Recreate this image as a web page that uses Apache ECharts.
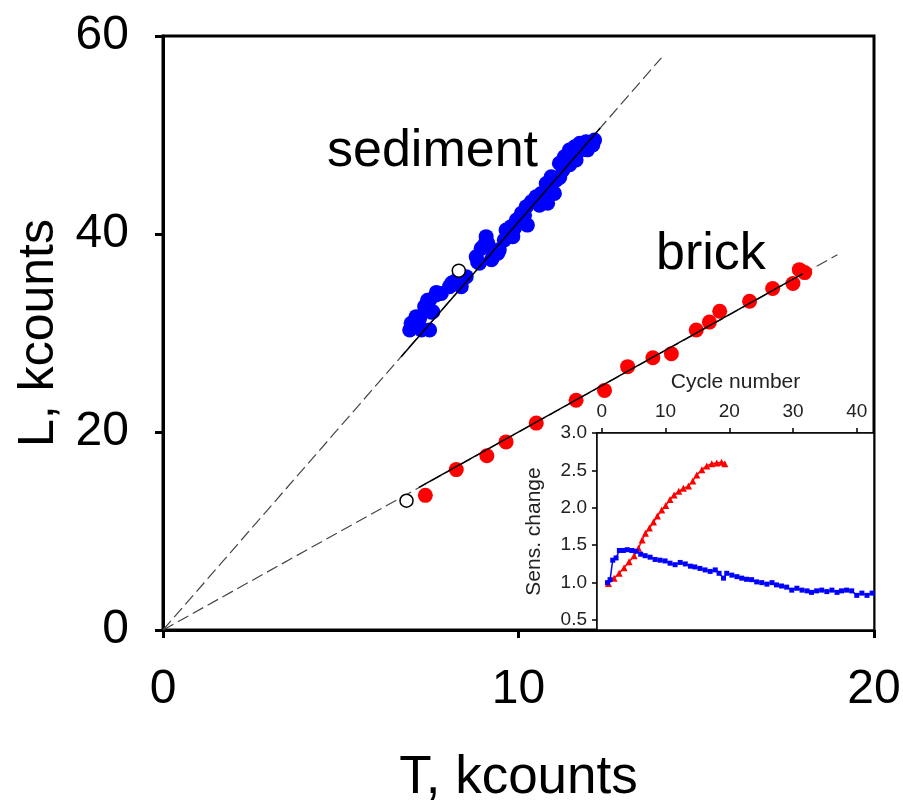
<!DOCTYPE html>
<html>
<head>
<meta charset="utf-8">
<script src="https://cdn.jsdelivr.net/npm/echarts@6/dist/echarts.min.js"></script>
<style>html,body{margin:0;padding:0;background:#fff}#c{width:903px;height:800px}</style>
</head>
<body>
<div id="c"></div>
<script>
// ---- main plot data ----
const sedT = [6.98,7.12,7.22,7.36,7.50,7.59,7.68,7.83,7.50,8.06,8.20,8.39,8.53,8.81,8.95,9.09,9.14,9.28,9.42,8.90,9.65,9.79,9.94,10.08,9.84,10.22,10.36,10.12,10.50,10.64,10.78,10.92,10.82,11.01,11.15,11.29,11.43,11.58,11.72,11.90,12.09,11.62,11.25,11.06,
  6.94,7.22,7.44,7.69,7.27,7.55,8.12,8.34,8.85,9.04,9.24,9.46,9.60,9.89,10.17,10.25,10.59,10.93,11.16,11.44,11.77,12.14,11.94];
const sedL = [30.98,31.65,30.64,32.66,33.33,32.15,33.84,34.00,30.30,34.68,35.20,34.68,35.69,37.70,38.55,39.73,39.06,37.70,38.05,37.04,40.40,40.74,41.41,42.09,39.73,42.76,43.26,41.41,43.77,44.10,45.10,45.79,43.10,44.10,47.14,47.80,48.48,48.82,49.16,49.33,48.99,47.47,46.46,45.45,
  30.3,31.5,33.3,34.1,30.3,32.1,35.05,35.56,37.17,38.9,37.4,38.4,39.4,40.6,41.9,40.9,42.9,44.4,45.7,47.0,48.5,49.5,48.5];
const brickT = [7.38,8.25,9.11,9.65,10.50,11.62,12.42,13.07,13.78,14.30,15.00,15.37,15.66,16.50,17.15,17.72,17.90,18.05];
const brickL = [13.6,16.2,17.6,19.0,20.9,23.2,24.2,26.6,27.5,27.9,30.3,31.1,32.2,33.2,34.5,35.0,36.4,36.1];
const openT = [8.32, 6.85];
const openL = [36.3, 13.06];
const sedFitDash = [[0,0],[14.02,57.8]];
const sedFitSolid = [[6.7,27.6],[12.3,50.7]];
const brickFitDash = [[0,0],[18.97,37.9]];
const brickFitSolid = [[7.2,14.4],[18.0,36.0]];
const mainXTicks = [0,10,20];
const mainYTicks = [0,20,40,60];

// ---- inset data ----
const redCycle = [1.04,1.93,2.72,3.5,4.28,5.07,5.75,6.33,6.85,7.47,8.1,8.72,9.4,10.03,10.7,11.34,12.07,12.8,13.6,14.27,14.9,15.7,16.47,17.25,18.03,18.8,19.3];
const redSens = [0.99,1.06,1.125,1.2,1.28,1.36,1.46,1.57,1.66,1.73,1.81,1.89,1.97,2.03,2.11,2.17,2.22,2.26,2.29,2.36,2.44,2.51,2.56,2.59,2.6,2.61,2.59];
const blueCycle = [0.9,1.3,1.72,2.24,2.76,3.39,4.0,4.7,5.38,6.1,6.8,7.58,8.36,9.14,9.93,10.7,11.5,12.3,13.1,13.9,14.6,15.4,16.2,17.0,17.8,18.4,19.1,19.6,20.4,21.2,21.95,22.7,23.5,24.3,25.1,25.9,26.7,27.4,28.2,29.0,29.8,30.6,31.4,32.2,32.9,33.7,34.5,35.3,36.1,36.9,37.6,38.4,39.2,40.0,40.8,41.6,42.4];
const blueSens = [1.0,1.04,1.30,1.33,1.43,1.43,1.44,1.43,1.42,1.38,1.36,1.34,1.31,1.30,1.29,1.26,1.24,1.27,1.25,1.22,1.21,1.19,1.17,1.15,1.17,1.125,1.06,1.125,1.10,1.08,1.06,1.045,1.04,1.01,1.0,0.98,1.0,0.97,0.955,0.94,0.90,0.925,0.90,0.89,0.87,0.89,0.90,0.88,0.90,0.87,0.89,0.90,0.89,0.83,0.86,0.83,0.86];
const insetXTicks = [0,10,20,30,40];
const insetYTicks = [0.5,1.0,1.5,2.0,2.5,3.0];

const zip = (a,b) => a.map((v,i)=>[v,b[i]]);
const FONT = 'Liberation Sans, Arial, sans-serif';

const chart = echarts.init(document.getElementById('c'), null, {renderer:'canvas'});
chart.setOption({
  animation:false,
  backgroundColor:'#fff',
  grid:[
    {left:163, top:36, right:29, bottom:170, outerBoundsMode:'none', containLabel:false, show:true, borderColor:'#000', borderWidth:3, backgroundColor:'transparent', z:0},
    {left:597, top:433, right:29, bottom:170, outerBoundsMode:'none', containLabel:false, show:true, borderColor:'#000', borderWidth:1.5, backgroundColor:'#fff', z:5}
  ],
  xAxis:[
    {gridIndex:0, type:'value', min:0, max:20, interval:10,
     name:'T, kcounts', nameLocation:'middle', nameGap:122,
     nameTextStyle:{fontFamily:FONT, fontSize:53, color:'#000'},
     axisLine:{lineStyle:{color:'#000', width:3}},
     axisTick:{inside:false, length:8, lineStyle:{width:3, color:'#000'}, customValues:mainXTicks},
     axisLabel:{fontFamily:FONT, fontSize:48, color:'#000', margin:36, customValues:mainXTicks},
     splitLine:{show:false}},
    {gridIndex:1, type:'value', position:'top', min:-0.75, max:42.7,
     name:'Cycle number', nameLocation:'middle', nameGap:40,
     nameTextStyle:{fontFamily:FONT, fontSize:21, color:'#222'},
     axisLine:{onZero:false, lineStyle:{color:'#000', width:1.5}},
     axisTick:{length:5, lineStyle:{width:1.5,color:'#000'}, customValues:insetXTicks},
     axisLabel:{fontFamily:FONT, fontSize:19, color:'#222', margin:12, customValues:insetXTicks},
     splitLine:{show:false}}
  ],
  yAxis:[
    {gridIndex:0, type:'value', min:0, max:60, interval:20,
     name:'L, kcounts', nameLocation:'middle', nameGap:86, nameRotate:90,
     nameTextStyle:{fontFamily:FONT, fontSize:50, color:'#000'},
     axisLine:{lineStyle:{color:'#000', width:3}},
     axisTick:{length:8, lineStyle:{width:3,color:'#000'}, customValues:mainYTicks},
     axisLabel:{fontFamily:FONT, fontSize:48, color:'#000', margin:34, customValues:mainYTicks},
     splitLine:{show:false}},
    {gridIndex:1, type:'value', min:0.367, max:3.0,
     name:'Sens. change', nameLocation:'middle', nameGap:52, nameRotate:90,
     nameTextStyle:{fontFamily:FONT, fontSize:21, color:'#222'},
     axisLine:{onZero:false, lineStyle:{color:'#000', width:1.5}},
     axisTick:{length:5, lineStyle:{width:1.5,color:'#000'}, customValues:insetYTicks},
     axisLabel:{fontFamily:FONT, fontSize:19, color:'#222', margin:10, customValues:insetYTicks,
       formatter:(v)=>v.toFixed(1)},
     splitLine:{show:false}}
  ],
  graphic:[
    {type:'text', left:327, top:126, z:10, style:{text:'sediment', font:'52px '+FONT, fill:'#000'}},
    {type:'text', left:656, top:229, z:10, style:{text:'brick', font:'52px '+FONT, fill:'#000'}}
  ],
  series:[
    {type:'line', xAxisIndex:0, yAxisIndex:0, data:sedFitDash, symbol:'none', z:1,
     lineStyle:{color:'#444', width:1.2, type:[12,5]}},
    {type:'line', xAxisIndex:0, yAxisIndex:0, data:brickFitDash, symbol:'none', z:1,
     lineStyle:{color:'#444', width:1.2, type:[12,5]}},
    {type:'scatter', xAxisIndex:0, yAxisIndex:0, data:zip(sedT,sedL), symbol:'circle', symbolSize:15, z:2,
     itemStyle:{color:'#0000FF', opacity:1}},
    {type:'scatter', xAxisIndex:0, yAxisIndex:0, data:zip(brickT,brickL), symbol:'circle', symbolSize:15, z:2,
     itemStyle:{color:'#FF0000', opacity:1}},
    {type:'line', xAxisIndex:0, yAxisIndex:0, data:sedFitSolid, symbol:'none', z:3,
     lineStyle:{color:'#000', width:1.5}},
    {type:'line', xAxisIndex:0, yAxisIndex:0, data:brickFitSolid, symbol:'none', z:3,
     lineStyle:{color:'#000', width:1.5}},
    {type:'scatter', xAxisIndex:0, yAxisIndex:0, data:zip(openT,openL), symbol:'circle', symbolSize:13, z:4,
     itemStyle:{color:'#fff', borderColor:'#000', borderWidth:1.5, opacity:1}},
    {type:'line', xAxisIndex:1, yAxisIndex:1, data:zip(redCycle,redSens), symbol:'triangle', symbolSize:7, z:6,
     lineStyle:{color:'#FF0000', width:1.5}, itemStyle:{color:'#FF0000'}},
    {type:'line', xAxisIndex:1, yAxisIndex:1, data:zip(blueCycle,blueSens), symbol:'rect', symbolSize:5, z:6,
     lineStyle:{color:'#0000FF', width:1.5}, itemStyle:{color:'#0000FF'}}
  ]
});
</script>
</body>
</html>
